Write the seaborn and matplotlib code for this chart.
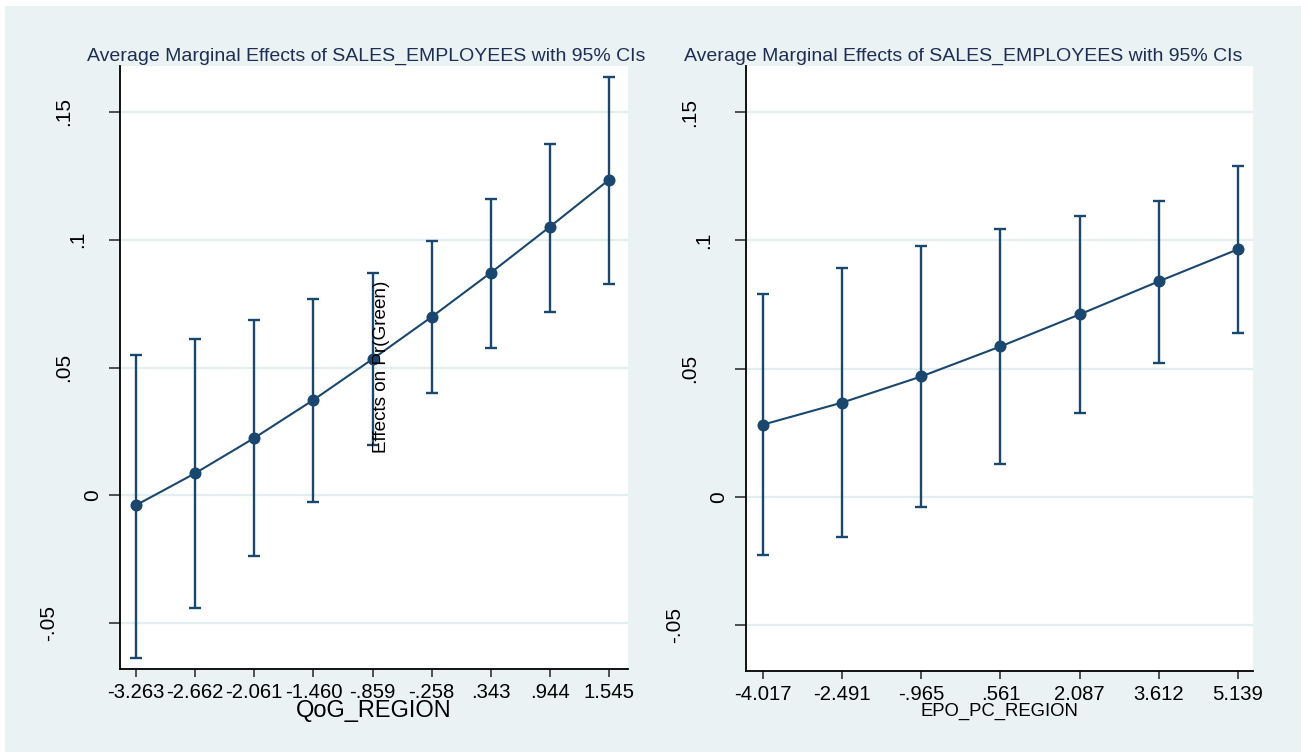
import numpy as np
import pandas as pd
import seaborn as sns
import matplotlib.pyplot as plt
from matplotlib.patches import Rectangle
from matplotlib.transforms import blended_transform_factory, offset_copy

# left panel: QoG_REGION
qog = [-3.263, -2.662, -2.061, -1.460, -0.859, -0.258, 0.343, 0.944, 1.545]
qog_labels = ["-3.263", "-2.662", "-2.061", "-1.460", "-.859", "-.258", ".343", ".944", "1.545"]
qog_ame = [-0.0039, 0.0086, 0.0224, 0.0373, 0.0533, 0.0698, 0.0871, 0.1051, 0.1235]
qog_hi = [0.0549, 0.0612, 0.0686, 0.0769, 0.0871, 0.0996, 0.1160, 0.1376, 0.1635]
qog_lo = [-0.0635, -0.0443, -0.0239, -0.0027, 0.0195, 0.0400, 0.0576, 0.0718, 0.0827]

# right panel: EPO_PC_REGION
epo = [-4.017, -2.491, -0.965, 0.561, 2.087, 3.612, 5.139]
epo_labels = ["-4.017", "-2.491", "-.965", ".561", "2.087", "3.612", "5.139"]
epo_ame = [0.0281, 0.0367, 0.0469, 0.0586, 0.0711, 0.0840, 0.0965]
epo_hi = [0.0789, 0.0891, 0.0977, 0.1043, 0.1094, 0.1152, 0.1289]
epo_lo = [-0.0227, -0.0156, -0.0039, 0.0129, 0.0328, 0.0523, 0.0637]

yticks = [-0.05, 0, 0.05, 0.1, 0.15]
ytick_labels = ["-.05", "0", ".05", ".1", ".15"]

title = "Average Marginal Effects of SALES_EMPLOYEES with 95% CIs"
navy = "#1a476f"
bg = "#eaf2f3"

sns.set_theme(style="white")
plt.rcParams["font.family"] = ["Liberation Sans", "DejaVu Sans"]

W, H = 1301, 752
fig = plt.figure(figsize=(W / 100, H / 100), dpi=100, facecolor="white")
fig.patches.append(Rectangle((5 / W, 0), 1, 1 - 6 / H, transform=fig.transFigure,
                             facecolor=bg, edgecolor="none", zorder=-10))


def px_axes(x0, y0, x1, y1):
    return fig.add_axes([x0 / W, 1 - y1 / H, (x1 - x0) / W, (y1 - y0) / H])


def panel(ax, x, xlabels, ame, lo, hi, xlim, xlabel, xlabel_size):
    df = pd.DataFrame({"x": x, "ame": ame})
    ax.set_facecolor("white")
    for y in yticks:
        ax.axhline(y, color="#e3eef0", lw=1.6, zorder=0)
    ax.errorbar(x, ame, yerr=[np.subtract(ame, lo), np.subtract(hi, ame)], fmt="none",
                ecolor=navy, elinewidth=1.7, capsize=4, capthick=1.7, zorder=2)
    sns.lineplot(data=df, x="x", y="ame", ax=ax, color=navy, lw=1.5, zorder=3)
    sns.scatterplot(data=df, x="x", y="ame", ax=ax, color=navy, s=75, edgecolor=navy,
                    linewidth=0, zorder=4)
    ax.set_xlim(*xlim)
    ax.set_ylim(-0.068, 0.168)
    ax.set_xticks(x)
    ax.set_xticklabels(xlabels, fontsize=14.6, color="black")
    ax.set_yticks(yticks)
    ax.set_yticklabels([])
    ax.tick_params(axis="both", which="both", direction="out", length=6, width=1.2,
                   color="#333333", bottom=True, left=True, pad=4)
    ax.tick_params(axis="y", length=8)
    for s in ["top", "right"]:
        ax.spines[s].set_visible(False)
    for s in ["left", "bottom"]:
        ax.spines[s].set_color("black")
        ax.spines[s].set_linewidth(1.3)
    ax.set_xlabel(xlabel, fontsize=xlabel_size, color="black", labelpad=-1)
    ax.set_ylabel("")
    # rotated y tick labels, offset by label length as in the original
    trans = blended_transform_factory(ax.transAxes, ax.transData)
    for v, lab in zip(yticks, ytick_labels):
        off = 13 + 14.5 * len(lab)
        t = offset_copy(trans, fig=fig, x=-off, y=0, units="dots")
        ax.text(0, v, lab, transform=t, rotation=90, ha="center", va="center",
                fontsize=15, color="black")


ax1 = px_axes(120, 66, 628, 669)
panel(ax1, qog, qog_labels, qog_ame, qog_lo, qog_hi, (-3.425, 1.737), "QoG_REGION", 17)

ax2 = px_axes(746, 66, 1253, 671)
panel(ax2, epo, epo_labels, epo_ame, epo_lo, epo_hi, (-4.344, 5.428), "EPO_PC_REGION", 13.3)

fig.text(366 / W, 1 - 61 / H, title, ha="center", va="baseline", fontsize=14.0, color="#1e2d53")
fig.text(963 / W, 1 - 61 / H, title, ha="center", va="baseline", fontsize=14.0, color="#1e2d53")
fig.text(382 / W, 1 - 367 / H, "Effects on Pr(Green)", rotation=90, ha="center", va="center",
         fontsize=13.6, color="black")

fig.savefig("out.png", dpi=100, facecolor=fig.get_facecolor())
